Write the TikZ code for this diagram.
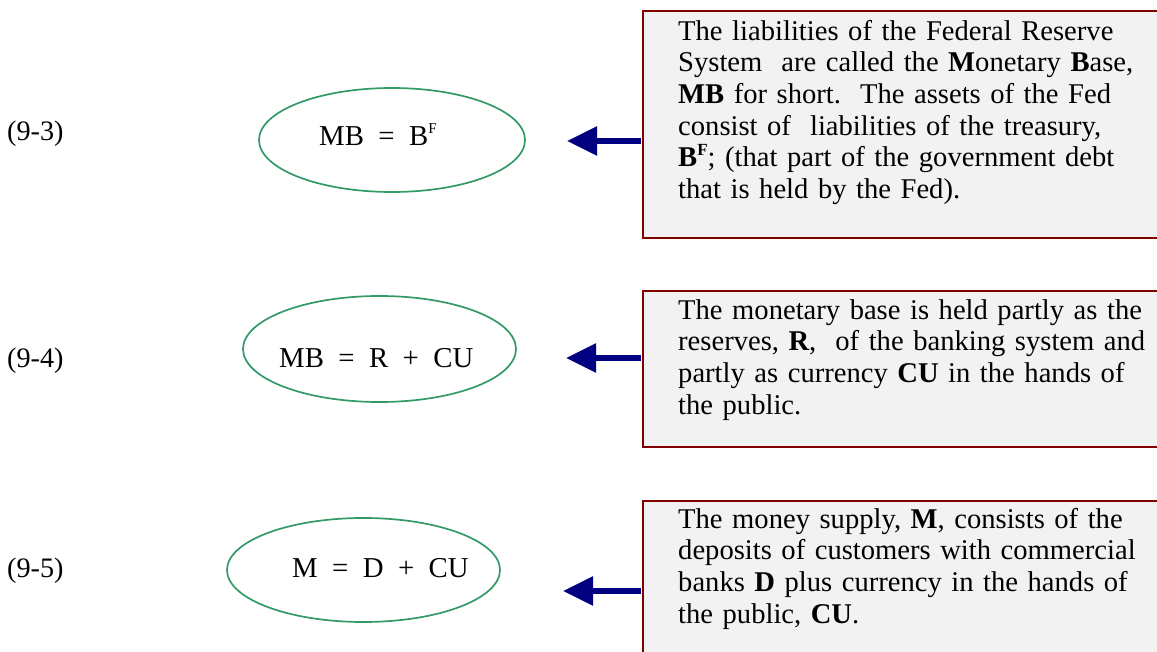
\documentclass[tikz,border=0pt]{standalone}
\usepackage{fontspec}
\setmainfont{Liberation Serif}
\usetikzlibrary{shapes.geometric,arrows.meta}
\definecolor{navyA}{HTML}{000080}
\definecolor{boxred}{HTML}{800000}
\definecolor{boxfill}{HTML}{F2F2F2}
\definecolor{ellgreen}{HTML}{339966}
\newcommand{\supF}{\raisebox{12.5pt}{\fontsize{15}{15}\selectfont F}}
\newcommand{\bsupF}{\textbf{B\raisebox{11pt}{\fontsize{17}{17}\selectfont\bfseries F}}}
\tikzset{
  infobox/.style={draw=boxred, line width=2pt, fill=boxfill, rectangle, anchor=north west, inner sep=0pt, minimum width=560pt},
  infotext/.style={anchor=north west, inner sep=0pt, text width=560pt, align=left, font=\fontsize{28.6}{31.6}\selectfont},
  eqell/.style={draw=ellgreen, line width=1.7pt, ellipse, inner sep=0pt},
  eqtext/.style={anchor=base west, inner sep=0pt, font=\fontsize{28.8}{36}\selectfont},
  lbl/.style={anchor=base west, inner sep=0pt, font=\fontsize{28.2}{36}\selectfont},
  arr/.style={draw=navyA, line width=5.5pt, -{Triangle[length=30pt,width=28pt]}, shorten <=1pt}
}
\begin{document}
\begin{tikzpicture}[x=1pt,y=-1pt]
\useasboundingbox (0,0) rectangle (1157,652);
\clip (0,0) rectangle (1157,652);

% labels
\node[lbl] (l1) at (7,141) {(9-3)};
\node[lbl] (l2) at (7,367) {(9-4)};
\node[lbl] (l3) at (7,577) {(9-5)};

% ellipses
\node[eqell, minimum width=266pt, minimum height=104pt] (e1) at (392,140) {};
\node[eqell, minimum width=273pt, minimum height=106pt] (e2) at (379.5,349) {};
\node[eqell, minimum width=273pt, minimum height=104pt] (e3) at (363.5,570) {};

\node[eqtext] (q1) at (319,146) {MB~~=~~B\supF};
\node[eqtext] (q2) at (279,367) {MB~~=~~R~~+~~CU};
\node[eqtext] (q3) at (292,577) {M~~=~~D~~+~~CU};

% boxes
\node[infobox, minimum height=227pt] (b1) at (642,10) {};
\node[infobox, minimum height=156pt] (b2) at (642,290) {};
\node[infobox, minimum height=200pt] (b3) at (642,500) {};

\node[infotext] (t1) at (678,17.9) {\strut The liabilities of the Federal Reserve\\
System~~are called the \textbf{M}onetary \textbf{B}ase,\\
\textbf{MB} for short.~~The assets of the Fed\\
consist of~~liabilities of the treasury,\\
\bsupF; (that part of the government debt\\
that is held by the Fed).};

\node[infotext] (t2) at (678,296.9) {\strut The monetary base is held partly as the\\
reserves, \textbf{R},~~of the banking system and\\
partly as currency \textbf{CU} in the hands of\\
the public.};

\node[infotext] (t3) at (678,505.9) {\strut The money supply, \textbf{M}, consists of the\\
deposits of customers with commercial\\
banks \textbf{D} plus currency in the hands of\\
the public, \textbf{CU}.};

% arrows
\coordinate (p1) at (567,141);
\coordinate (p2) at (566,358);
\coordinate (p3) at (563,591);
\draw[arr] (b1.west |- p1) -- (p1);
\draw[arr] (b2.west |- p2) -- (p2);
\draw[arr] (b3.west |- p3) -- (p3);
\end{tikzpicture}
\end{document}
